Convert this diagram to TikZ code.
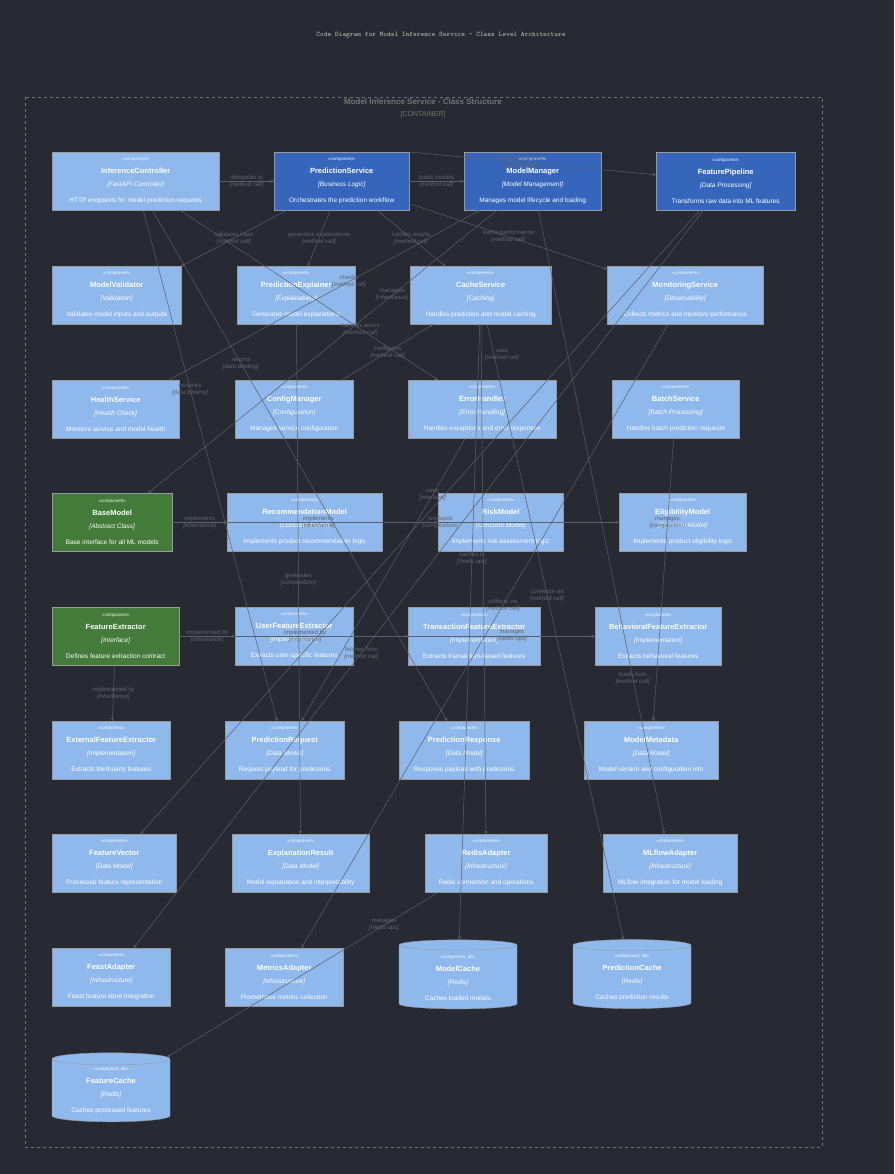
\documentclass[tikz,border=0pt]{standalone}
\usepackage{fontspec}
\setmainfont{Liberation Sans}
\usepackage{xcolor}
\usetikzlibrary{shapes.geometric, arrows, positioning}
\definecolor{bgc}{HTML}{282A33}
\definecolor{lightc}{HTML}{8FB8EC}
\definecolor{darkc}{HTML}{3566BC}
\definecolor{greenc}{HTML}{447A3A}
\definecolor{linec}{HTML}{5C5F68}
\definecolor{labc}{HTML}{62656D}
\newcommand{\comptext}[4]{{\fontsize{4.5}{5}\selectfont\itshape <<#1>>}\\[1pt]{\fontsize{7.5}{9}\selectfont\bfseries #2}\\[1pt]{\fontsize{6.5}{8}\selectfont\itshape [#3]}\\[4pt]{\fontsize{6.5}{8}\selectfont #4}}

\begin{document}
\begin{tikzpicture}[x=1pt, y=-1pt,
    comp/.style={rectangle, draw=black!40, fill=lightc, text=white, anchor=north west, minimum height=58pt, inner sep=1pt, align=center},
    core/.style={comp, fill=darkc},
    abstr/.style={comp, fill=greenc},
    store/.style={cylinder, shape border rotate=90, aspect=0.15, draw=black!40, fill=lightc, text=white, minimum width=118pt, minimum height=69pt, align=center, inner sep=1pt},
    arrow/.style={->, >=stealth, draw=linec, line width=0.5pt},
    lab/.style={text=labc, font=\fontsize{6}{7}\selectfont, align=center}
]
\fill[bgc] (0,0) rectangle (894,1174);
\useasboundingbox (0,0) rectangle (894,1174);
\node[text=black!25, font=\fontsize{7}{8}\ttfamily] (title) at (441,35) {Code Diagram for Model Inference Service - Class Level Architecture};
\draw[dashed, draw=black!55] (25,97) rectangle (822,1147);
\node[text=black!55, font=\fontsize{8}{9}\selectfont\bfseries] (ctitle) at (423,102) {Model Inference Service - Class Structure};
\node[text=black!55, font=\fontsize{7}{8}\selectfont] (ctype) at (423,115) {[CONTAINER]};

% row 1
\node[comp, minimum width=167pt] (ic) at (52,152) {\comptext{component}{InferenceController}{FastAPI Controller}{HTTP endpoints for model prediction requests}};
\node[core, minimum width=135pt] (ps) at (274,152) {\comptext{component}{PredictionService}{Business Logic}{Orchestrates the prediction workflow}};
\node[core, minimum width=137pt] (mm) at (464,152) {\comptext{component}{ModelManager}{Model Management}{Manages model lifecycle and loading}};
\node[core, minimum width=139pt] (fp) at (656,152) {\comptext{component}{FeaturePipeline}{Data Processing}{Transforms raw data into ML features}};
% row 2
\node[comp, minimum width=129pt] (mv) at (52,266) {\comptext{component}{ModelValidator}{Validation}{Validates model inputs and outputs}};
\node[comp, minimum width=118pt] (pe) at (237,266) {\comptext{component}{PredictionExplainer}{Explainability}{Generates model explanations}};
\node[comp, minimum width=141pt] (cs) at (410,266) {\comptext{component}{CacheService}{Caching}{Handles prediction and model caching}};
\node[comp, minimum width=156pt] (mon) at (607,266) {\comptext{component}{MonitoringService}{Observability}{Collects metrics and monitors performance}};
% row 3
\node[comp, minimum width=127pt] (hs) at (52,380) {\comptext{component}{HealthService}{Health Check}{Monitors service and model health}};
\node[comp, minimum width=118pt] (cm) at (235,380) {\comptext{component}{ConfigManager}{Configuration}{Manages service configuration}};
\node[comp, minimum width=148pt] (eh) at (408,380) {\comptext{component}{ErrorHandler}{Error Handling}{Handles exceptions and error responses}};
\node[comp, minimum width=127pt] (bs) at (612,380) {\comptext{component}{BatchService}{Batch Processing}{Handles batch prediction requests}};
% row 4
\node[abstr, minimum width=120pt] (bm) at (52,493) {\comptext{component}{BaseModel}{Abstract Class}{Base interface for all ML models}};
\node[comp, minimum width=155pt] (rec) at (227,493) {\comptext{component}{RecommendationModel}{Concrete Model}{Implements product recommendation logic}};
\node[comp, minimum width=125pt] (risk) at (438,493) {\comptext{component}{RiskModel}{Concrete Model}{Implements risk assessment logic}};
\node[comp, minimum width=127pt] (elig) at (619,493) {\comptext{component}{EligibilityModel}{Concrete Model}{Implements product eligibility logic}};
% row 5
\node[abstr, minimum width=127pt] (fe) at (52,607) {\comptext{component}{FeatureExtractor}{Interface}{Defines feature extraction contract}};
\node[comp, minimum width=118pt] (ufe) at (235,607) {\comptext{component}{UserFeatureExtractor}{Implementation}{Extracts user-specific features}};
\node[comp, minimum width=132pt] (tfe) at (408,607) {\comptext{component}{TransactionFeatureExtractor}{Implementation}{Extracts transaction-based features}};
\node[comp, minimum width=126pt] (bfe) at (595,607) {\comptext{component}{BehavioralFeatureExtractor}{Implementation}{Extracts behavioral features}};
% row 6
\node[comp, minimum width=118pt] (efe) at (52,721) {\comptext{component}{ExternalFeatureExtractor}{Implementation}{Extracts third-party features}};
\node[comp, minimum width=119pt] (preq) at (225,721) {\comptext{component}{PredictionRequest}{Data Model}{Request payload for predictions}};
\node[comp, minimum width=130pt] (pres) at (399,721) {\comptext{component}{PredictionResponse}{Data Model}{Response payload with predictions}};
\node[comp, minimum width=134pt] (meta) at (584,721) {\comptext{component}{ModelMetadata}{Data Model}{Model version and configuration info}};
% row 7
\node[comp, minimum width=124pt] (fv) at (52,834) {\comptext{component}{FeatureVector}{Data Model}{Processed feature representation}};
\node[comp, minimum width=137pt] (er) at (232,834) {\comptext{component}{ExplanationResult}{Data Model}{Model explanation and interpretability}};
\node[comp, minimum width=122pt] (ra) at (425,834) {\comptext{component}{RedisAdapter}{Infrastructure}{Redis connection and operations}};
\node[comp, minimum width=134pt] (mla) at (603,834) {\comptext{component}{MLflowAdapter}{Infrastructure}{MLflow integration for model loading}};
% row 8
\node[comp, minimum width=118pt] (fa) at (52,948) {\comptext{component}{FeastAdapter}{Infrastructure}{Feast feature store integration}};
\node[comp, minimum width=118pt] (ma) at (225,948) {\comptext{component}{MetricsAdapter}{Infrastructure}{Prometheus metrics collection}};
\node[store] (mc) at (458,977.5) {\comptext{component\_db}{ModelCache}{Redis}{Caches loaded models}};
\node[store] (pc) at (632,977.5) {\comptext{component\_db}{PredictionCache}{Redis}{Caches prediction results}};
% row 9
\node[store] (fc) at (111,1091) {\comptext{component\_db}{FeatureCache}{Redis}{Caches processed features}};

% connectors
\draw[arrow] (ic) -- node[lab] {delegates to\\\textit{[method call]}} (ps);
\draw[arrow] (ps) -- node[lab] {loads models\\\textit{[method call]}} (mm);
\draw[arrow] (ps.north east) -- node[lab, pos=0.45] {extracts features\\\textit{[method call]}} (fp);
\draw[arrow] (ps) -- node[lab] {validates input\\\textit{[method call]}} (mv.north east);
\draw[arrow] (ps) -- node[lab] {generates explanations\\\textit{[method call]}} (pe);
\draw[arrow] (ps) -- node[lab] {caches results\\\textit{[method call]}} (cs);
\draw[arrow] (ps) -- node[lab] {tracks performance\\\textit{[method call]}} (mon);
\draw[arrow] (ic) -- node[lab, pos=0.7] {handles errors\\\textit{[method call]}} (eh);
\draw[arrow] (cm) -- node[lab] {configures\\\textit{[method call]}} (cs);
\draw[arrow] (cs) -- node[lab, pos=0.06, right] {uses\\\textit{[method call]}} (ra);
\draw[arrow] (hs) -- node[lab, pos=0.58] {checks\\\textit{[method call]}} (mm);
\draw[arrow] (mm) -- node[lab, pos=0.3] {manages\\\textit{[inheritance]}} (bm);
\draw[arrow] (ic) -- node[lab, pos=0.35] {receives\\\textit{[data binding]}} (preq);
\draw[arrow] (ic) -- node[lab, pos=0.3] {returns\\\textit{[data binding]}} (pres);
\draw[arrow] (bs) -- node[lab, pos=0.3] {manages\\\textit{[composition]}} (meta);
\draw[arrow] (eh) -- node[lab, pos=0.2] {uses\\\textit{[interface]}} (preq);
\draw[arrow] (bm) -- node[lab] {implements\\\textit{[inheritance]}} (rec);
\draw[arrow] (bm.east) -- node[lab, pos=0.55] {implements\\\textit{[inheritance]}} (risk);
\draw[arrow] (bm.east) -- node[lab, pos=0.6] {produces\\\textit{[composition]}} (elig);
\draw[arrow] (mm) -- node[lab, pos=0.75] {loads from\\\textit{[method call]}} (mla);
\draw[arrow] (pe) -- node[lab, pos=0.5] {generates\\\textit{[composition]}} (er);
\draw[arrow] (fp) -- node[lab, pos=0.6] {fetches from\\\textit{[method call]}} (fa);
\draw[arrow] (fp) -- (fv);
\draw[arrow] (fe) -- node[lab] {implemented by\\\textit{[inheritance]}} (ufe);
\draw[arrow] (fe.east) -- node[lab, pos=0.55] {implemented by\\\textit{[inheritance]}} (tfe);
\draw[arrow] (fe.east) -- node[lab, pos=0.8] {manages\\\textit{[Redis ops]}} (bfe);
\draw[arrow] (fe) -- node[lab] {implemented by\\\textit{[inheritance]}} (efe);
\draw[arrow] (cs) -- node[lab, pos=0.38] {caches in\\\textit{[Redis ops]}} (mc);
\draw[arrow] (cs) -- node[lab, pos=0.44] {connects via\\\textit{[method call]}} (pc);
\draw[arrow] (ra) -- node[lab, pos=0.2] {manages\\\textit{[Redis ops]}} (fc);
\draw[arrow] (mon) -- node[lab, pos=0.45] {collects via\\\textit{[method call]}} (ma);
\end{tikzpicture}
\end{document}
